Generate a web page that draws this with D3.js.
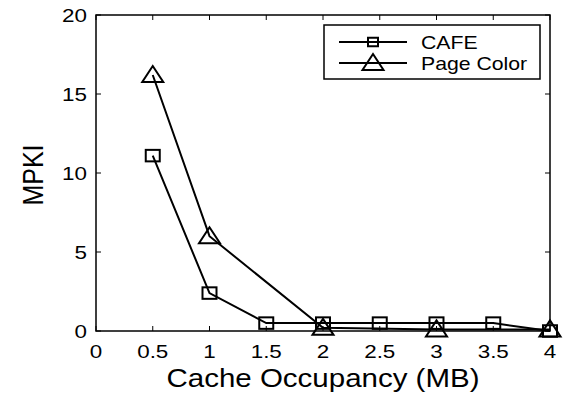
<!DOCTYPE html>
<html>
<head>
<meta charset="utf-8">
<script src="https://cdn.jsdelivr.net/npm/d3@7"></script>
<style>
  body { margin: 0; background: #fff; }
  text { font-family: "Liberation Sans", Arial, sans-serif; fill: #000; }
</style>
</head>
<body>
<script>
// chart data
let cafeX = [0.5, 1, 1.5, 2, 2.5, 3, 3.5, 4];
let cafeY = [11.1, 2.4, 0.5, 0.5, 0.5, 0.5, 0.5, 0.0];
let pageX = [0.5, 1, 2, 3, 4];
let pageY = [16.2, 6.0, 0.2, 0.1, 0.1];
let xTicks = [0, 0.5, 1, 1.5, 2, 2.5, 3, 3.5, 4];
let yTicks = [0, 5, 10, 15, 20];

let width = 563, height = 393;
let margin = {left: 96, right: 13, top: 15, bottom: 62};
let stretch = 1.18; // the original text looks wide

let svg = d3.select("body").append("svg")
    .attr("width", width)
    .attr("height", height);

let x = d3.scaleLinear().domain([0, 4]).range([margin.left, width - margin.right]);
let y = d3.scaleLinear().domain([0, 20]).range([height - margin.bottom, margin.top]);

function label(g, px, py, str, size, anchor, rot){
    return g.append("text")
        .attr("transform", "translate(" + px + "," + py + ") scale(" + stretch + ",1)" + (rot ? " rotate(" + rot + ")" : ""))
        .attr("text-anchor", anchor)
        .style("font-size", size + "px")
        .text(str);
}

// frame box
svg.append("rect")
    .attr("x", x(0)).attr("y", y(20))
    .attr("width", x(4) - x(0)).attr("height", y(0) - y(20))
    .attr("fill", "none").attr("stroke", "#000").attr("stroke-width", 1.5);

// ticks inside on all sides
let tl = 5;
xTicks.forEach(function(t){
    svg.append("line").attr("x1", x(t)).attr("x2", x(t)).attr("y1", y(0)).attr("y2", y(0) - tl)
        .attr("stroke", "#000").attr("stroke-width", 1);
    svg.append("line").attr("x1", x(t)).attr("x2", x(t)).attr("y1", y(20)).attr("y2", y(20) + tl)
        .attr("stroke", "#000").attr("stroke-width", 1);
    label(svg, x(t), y(0) + 27, t, 19, "middle");
});
yTicks.forEach(function(t){
    svg.append("line").attr("x1", x(0)).attr("x2", x(0) + tl).attr("y1", y(t)).attr("y2", y(t))
        .attr("stroke", "#000").attr("stroke-width", 1);
    svg.append("line").attr("x1", x(4)).attr("x2", x(4) - tl).attr("y1", y(t)).attr("y2", y(t))
        .attr("stroke", "#000").attr("stroke-width", 1);
    label(svg, x(0) - 9, y(t) + 7, t, 19, "end");
});

// axis labels
label(svg, (x(0) + x(4)) / 2, 387, "Cache Occupancy (MB)", 25, "middle");
label(svg, 43 / stretch * stretch, y(10) + 2, "MPKI", 25, "middle", -90);

let line = d3.line().x(function(d){ return x(d[0]); }).y(function(d){ return y(d[1]); });

let cafe = cafeX.map(function(v, i){ return [v, cafeY[i]]; });
let page = pageX.map(function(v, i){ return [v, pageY[i]]; });

function square(g, cx, cy, w, h){
    g.append("rect").attr("x", cx - w / 2).attr("y", cy - h / 2).attr("width", w).attr("height", h)
        .attr("fill", "none").attr("stroke", "#000").attr("stroke-width", 2);
}
function triangle(g, cx, cy){
    g.append("path")
        .attr("d", "M" + cx + "," + (cy - 9) + "L" + (cx + 10.5) + "," + (cy + 7) + "L" + (cx - 10.5) + "," + (cy + 7) + "Z")
        .attr("fill", "none").attr("stroke", "#000").attr("stroke-width", 2)
        .attr("stroke-linejoin", "miter");
}

svg.append("path").datum(cafe).attr("d", line)
    .attr("fill", "none").attr("stroke", "#000").attr("stroke-width", 2);
svg.append("path").datum(page).attr("d", line)
    .attr("fill", "none").attr("stroke", "#000").attr("stroke-width", 2);

cafe.forEach(function(d){ square(svg, x(d[0]), y(d[1]), 14, 11.5); });
page.forEach(function(d){ triangle(svg, x(d[0]), y(d[1])); });

// legend
let leg = svg.append("g");
leg.append("rect").attr("x", 324).attr("y", 25).attr("width", 216).attr("height", 54)
    .attr("fill", "#fff").attr("stroke", "#000").attr("stroke-width", 1.5);
let legItems = [["CAFE", 42], ["Page Color", 63]];
legItems.forEach(function(it, i){
    leg.append("line").attr("x1", 339).attr("x2", 407).attr("y1", it[1]).attr("y2", it[1])
        .attr("stroke", "#000").attr("stroke-width", 2);
    if (i === 0) square(leg, 373, it[1], 10, 8.5);
    else triangle(leg, 373, it[1]);
    label(leg, 421, it[1] + 6.5, it[0], 18, "start");
});
</script>
</body>
</html>
